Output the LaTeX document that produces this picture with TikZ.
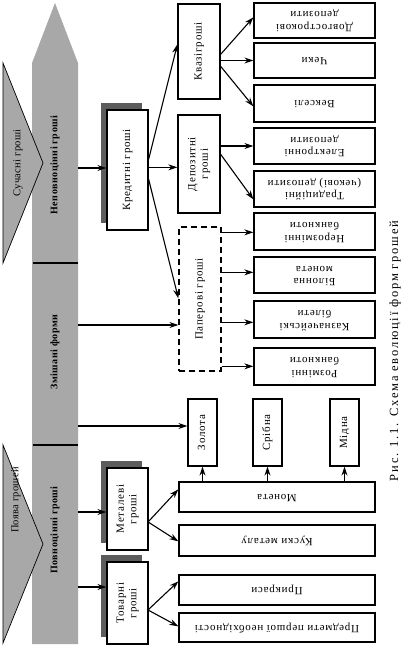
\documentclass[tikz,border=0pt]{standalone}
\usepackage{fontspec}
\usepackage{graphicx}
\setmainfont{Liberation Serif}
\newfontfamily\bfont[LetterSpace=7]{Liberation Serif}
\newfontfamily\colfont[LetterSpace=5]{Liberation Serif}
\newfontfamily\pfont[LetterSpace=3]{Liberation Serif}
\newfontfamily\cfont[LetterSpace=14]{Liberation Serif}
\usetikzlibrary{arrows.meta,calc,shadows}
\definecolor{colgray}{RGB}{168,168,168}
\definecolor{shgray}{RGB}{92,92,92}
\newcommand\rtxt[2]{\rotatebox{#1}{\def\arraystretch{1}\begin{tabular}{@{}c@{}}#2\end{tabular}}}
\begin{document}
\begin{tikzpicture}[x=1pt,y=-1pt,
  box/.style={draw, line width=1.3pt, fill=white, inner sep=0pt,
    font=\bfont\fontsize{11}{12.5}\selectfont},
  rbox/.style={box, minimum width=121pt},
  wbox/.style={box, minimum width=196pt},
  mbox/.style={box, minimum width=29pt, minimum height=67pt},
  cbox/.style={box, minimum width=42pt},
  sbox/.style={box, minimum width=41pt,
    drop shadow={shadow xshift=-6pt, shadow yshift=7pt, fill=shgray, opacity=1}},
  dbox/.style={box, dash pattern=on 6pt off 4pt, line width=1.3pt},
  arr/.style={line width=1.1pt, -{Stealth[length=9pt,width=6pt]}},
  coltext/.style={font=\colfont\bfseries\fontsize{10}{11}\selectfont, inner sep=0pt},
  pentext/.style={font=\pfont\fontsize{10.5}{11}\selectfont, inner sep=0pt},
]
\useasboundingbox (0,0) rectangle (417,647);

% main arrow column
\fill[colgray] (32,644) -- (32,63) -- (55,3) -- (78,63) -- (78,644) -- cycle;
\draw[line width=1.2pt] (33,263) -- (78,263);
\draw[line width=1.2pt] (33,445) -- (78,445);
\node[coltext] (t1) at (55,165) {\rotatebox{90}{Неповноцінні гроші}};
\node[coltext] (t2) at (55,352) {\rotatebox{90}{Змішані форми}};
\node[coltext] (t3) at (55,530) {\rotatebox{90}{Повноцінні гроші}};

% pennants
\filldraw[fill=colgray, draw=black, line width=0.7pt] (3,63) -- (43,163) -- (3,263) -- cycle;
\filldraw[fill=colgray, draw=black, line width=0.7pt] (3,445) -- (43,544) -- (3,643) -- cycle;
\node[pentext] (p1) at (18,163) {\rotatebox{90}{Сучасні гроші}};
\node[pentext] (p2) at (16,500) {\rotatebox{90}{Поява грошей}};

% left boxes
\node[sbox, minimum height=120pt] (kred) at (127.5,170) {\rtxt{90}{Кредитні гроші}};
\node[sbox, minimum height=82pt] (met) at (127.5,509) {\rtxt{90}{Металеві\\гроші}};
\node[sbox, minimum height=82pt] (tov) at (127.5,603) {\rtxt{90}{Товарні\\гроші}};

% middle column
\node[cbox, minimum height=95pt] (kvazi) at (199,51.5) {\rtxt{90}{Квазігроші}};
\node[cbox, minimum height=98pt] (dep) at (199,164) {\rtxt{90}{Депозитні\\гроші}};
\node[dbox, minimum width=42pt, minimum height=144pt] (pap) at (200,299) {\rtxt{90}{Паперові гроші}};

% right column
\node[rbox, minimum height=35pt] (d1) at (314.5,20.5) {\rtxt{180}{Довгострокові\\депозити}};
\node[rbox, minimum height=35pt] (d2) at (314.5,60.5) {\rtxt{180}{Чеки}};
\node[rbox, minimum height=37pt] (d3) at (314.5,103.5) {\rtxt{180}{Векселі}};
\node[rbox, minimum height=36pt] (d4) at (314.5,146) {\rtxt{180}{Електронні\\депозити}};
\node[rbox, minimum height=36pt] (d5) at (314.5,189) {\rtxt{180}{Традиційні\\(чекові) депозити}};
\node[rbox, minimum height=37pt] (d6) at (314.5,231.5) {\rtxt{180}{Нерозмінні\\банкноти}};
\node[rbox, minimum height=36pt] (d7) at (314.5,275) {\rtxt{180}{Білонна\\монета}};
\node[rbox, minimum height=37pt] (d8) at (314.5,319.5) {\rtxt{180}{Казначейські\\білети}};
\node[rbox, minimum height=37pt] (d9) at (314.5,366.5) {\rtxt{180}{Розмінні\\банкноти}};

% metals
\node[mbox] (zol) at (202.5,432.5) {\rtxt{90}{Золота}};
\node[mbox] (sri) at (267.5,432.5) {\rtxt{90}{Срібна}};
\node[mbox] (mid) at (344.5,432.5) {\rtxt{90}{Мідна}};

% bottom wide boxes
\node[wbox, minimum height=30pt] (mon) at (277,497) {\rtxt{180}{Монета}};
\node[wbox, minimum height=31pt] (kus) at (277,540.5) {\rtxt{180}{Куски металу}};
\node[wbox, minimum height=30pt] (pryk) at (277,590) {\rtxt{180}{Прикраси}};
\node[wbox, minimum height=29pt] (pred) at (277,627.5) {\rtxt{180}{Предмети першої необхідності}};

% caption
\node[font=\cfont\fontsize{12.5}{13}\selectfont, inner sep=0pt] (cap) at (395,351) {\rotatebox{90}{Рис. 1.1. Схема еволюції форм грошей}};

% connectors from column
\coordinate (c1) at (78,168);
\coordinate (c2) at (78,325);
\coordinate (c3) at (78,426);
\coordinate (c4) at (78,512);
\coordinate (c5) at (78,587);
\draw[arr] (c1) -- (c1 -| kred.west);
\draw[arr] (c2) -- (c2 -| pap.west);
\draw[arr] (c3) -- (c3 -| zol.west);
\draw[arr] (c4) -- (c4 -| met.west);
\draw[arr] (c5) -- (c5 -| tov.west);

% credit money
\draw[arr] ($(kred.north east)+(0,50)$) -- ($(kvazi.north west)+(0,41)$);
\draw[arr] ($(kred.north east)+(0,58)$) coordinate (k2) -- (k2 -| dep.west);
\draw[arr] ($(kred.north east)+(0,70)$) -- ($(pap.north west)+(0,72)$);

% quasi money
\draw[arr] ($(kvazi.north east)+(0,51)$) -- ($(d1.north west)+(0,15)$);
\draw[arr] (kvazi.east |- d2.west) -- (d2.west);
\draw[arr] ($(kvazi.north east)+(0,63)$) -- ($(d3.north west)+(0,22)$);

% deposit money
\draw[arr] (dep.east |- d4.west) -- (d4.west);
\draw[arr] ($(dep.north east)+(0,40)$) -- ($(d5.north west)+(0,29)$);

% paper money
\draw[arr] ($(pap.north east)+(0,6)$) coordinate (q6) -- (q6 -| d6.west);
\draw[arr] ($(pap.north east)+(0,46)$) coordinate (q7) -- (q7 -| d7.west);
\draw[arr] ($(pap.north east)+(0,96)$) coordinate (q8) -- (q8 -| d8.west);
\draw[arr] ($(pap.north east)+(0,140)$) coordinate (q9) -- (q9 -| d9.west);

% coin to metals
\draw[arr] (zol.south |- mon.north) -- (zol.south);
\draw[arr] (sri.south |- mon.north) -- (sri.south);
\draw[arr] (mid.south |- mon.north) -- (mid.south);

% metal money
\draw[arr] ($(met.north east)+(0,54)$) -- ($(mon.north west)+(0,8)$);
\draw[arr] ($(met.north east)+(0,55)$) -- ($(kus.north west)+(0,17)$);

% commodity money
\draw[arr] ($(tov.north east)+(0,48)$) -- ($(pryk.north west)+(0,7)$);
\draw[arr] ($(tov.north east)+(0,49)$) -- ($(pred.north west)+(0,14)$);
\end{tikzpicture}
\end{document}
